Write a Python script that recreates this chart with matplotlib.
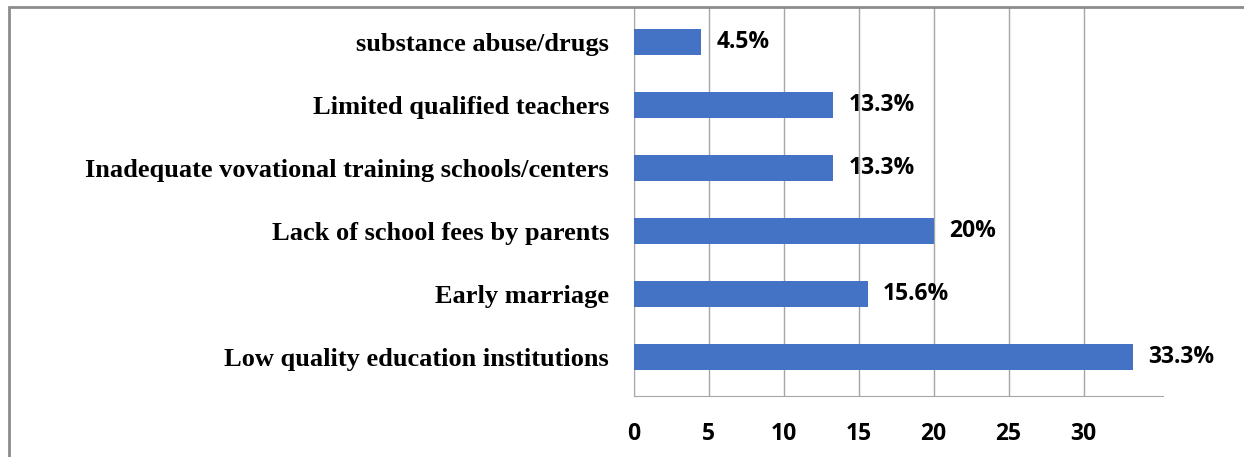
import matplotlib as mpl
mpl.use("Agg")
import matplotlib.pyplot as plt
from matplotlib.patches import Rectangle

# bottom to top
reasons = [
    "Low quality education institutions",
    "Early marriage",
    "Lack of school fees by parents",
    "Inadequate vovational training schools/centers",
    "Limited qualified teachers",
    "substance abuse/drugs",
]
percent = [33.3, 15.6, 20, 13.3, 13.3, 4.5]
value_labels = ["33.3%", "15.6%", "20%", "13.3%", "13.3%", "4.5%"]
xticks = [0, 5, 10, 15, 20, 25, 30]

W, H = 1244, 457
fig = plt.figure(figsize=(W / 100, H / 100), dpi=100)
ax = fig.add_axes([634 / W, 1 - 396 / H, (1163 - 634) / W, (396 - 8) / H])

pos = list(range(len(reasons)))
ax.barh(pos, percent, height=0.4, color="#4472C4", zorder=3)

for y, v, txt in zip(pos, percent, value_labels):
    ax.text(v + 1.0, y, txt, va="center", ha="left", fontsize=16.5,
            fontweight="bold", family="Open Sans", color="black", zorder=4)

ax.set_xlim(0, 35.3)
ax.set_ylim(-0.62, 5.54)
ax.set_xticks(xticks)
ax.set_xticklabels([str(t) for t in xticks], fontsize=16.5, fontweight="bold",
                   family="Open Sans")
ax.set_yticks(pos)
ax.set_yticklabels(reasons, fontsize=19, fontweight="bold",
                   family="Liberation Serif")
ax.tick_params(axis="both", length=0)
ax.tick_params(axis="x", pad=19)
ax.tick_params(axis="y", pad=18)

ax.grid(axis="x", color="#a6a6a6", lw=1, zorder=0)
for side in ["top", "right"]:
    ax.spines[side].set_visible(False)
ax.spines["left"].set_color("#a6a6a6")
ax.spines["bottom"].set_color("#a6a6a6")

# outer frame of the chart area
fig.patches.append(Rectangle((9 / W, -0.1), 1.1, 1.1 - 7 / H, transform=fig.transFigure,
                             fill=False, edgecolor="#8c8c8c", lw=2))

fig.savefig("out.png", dpi=100)
